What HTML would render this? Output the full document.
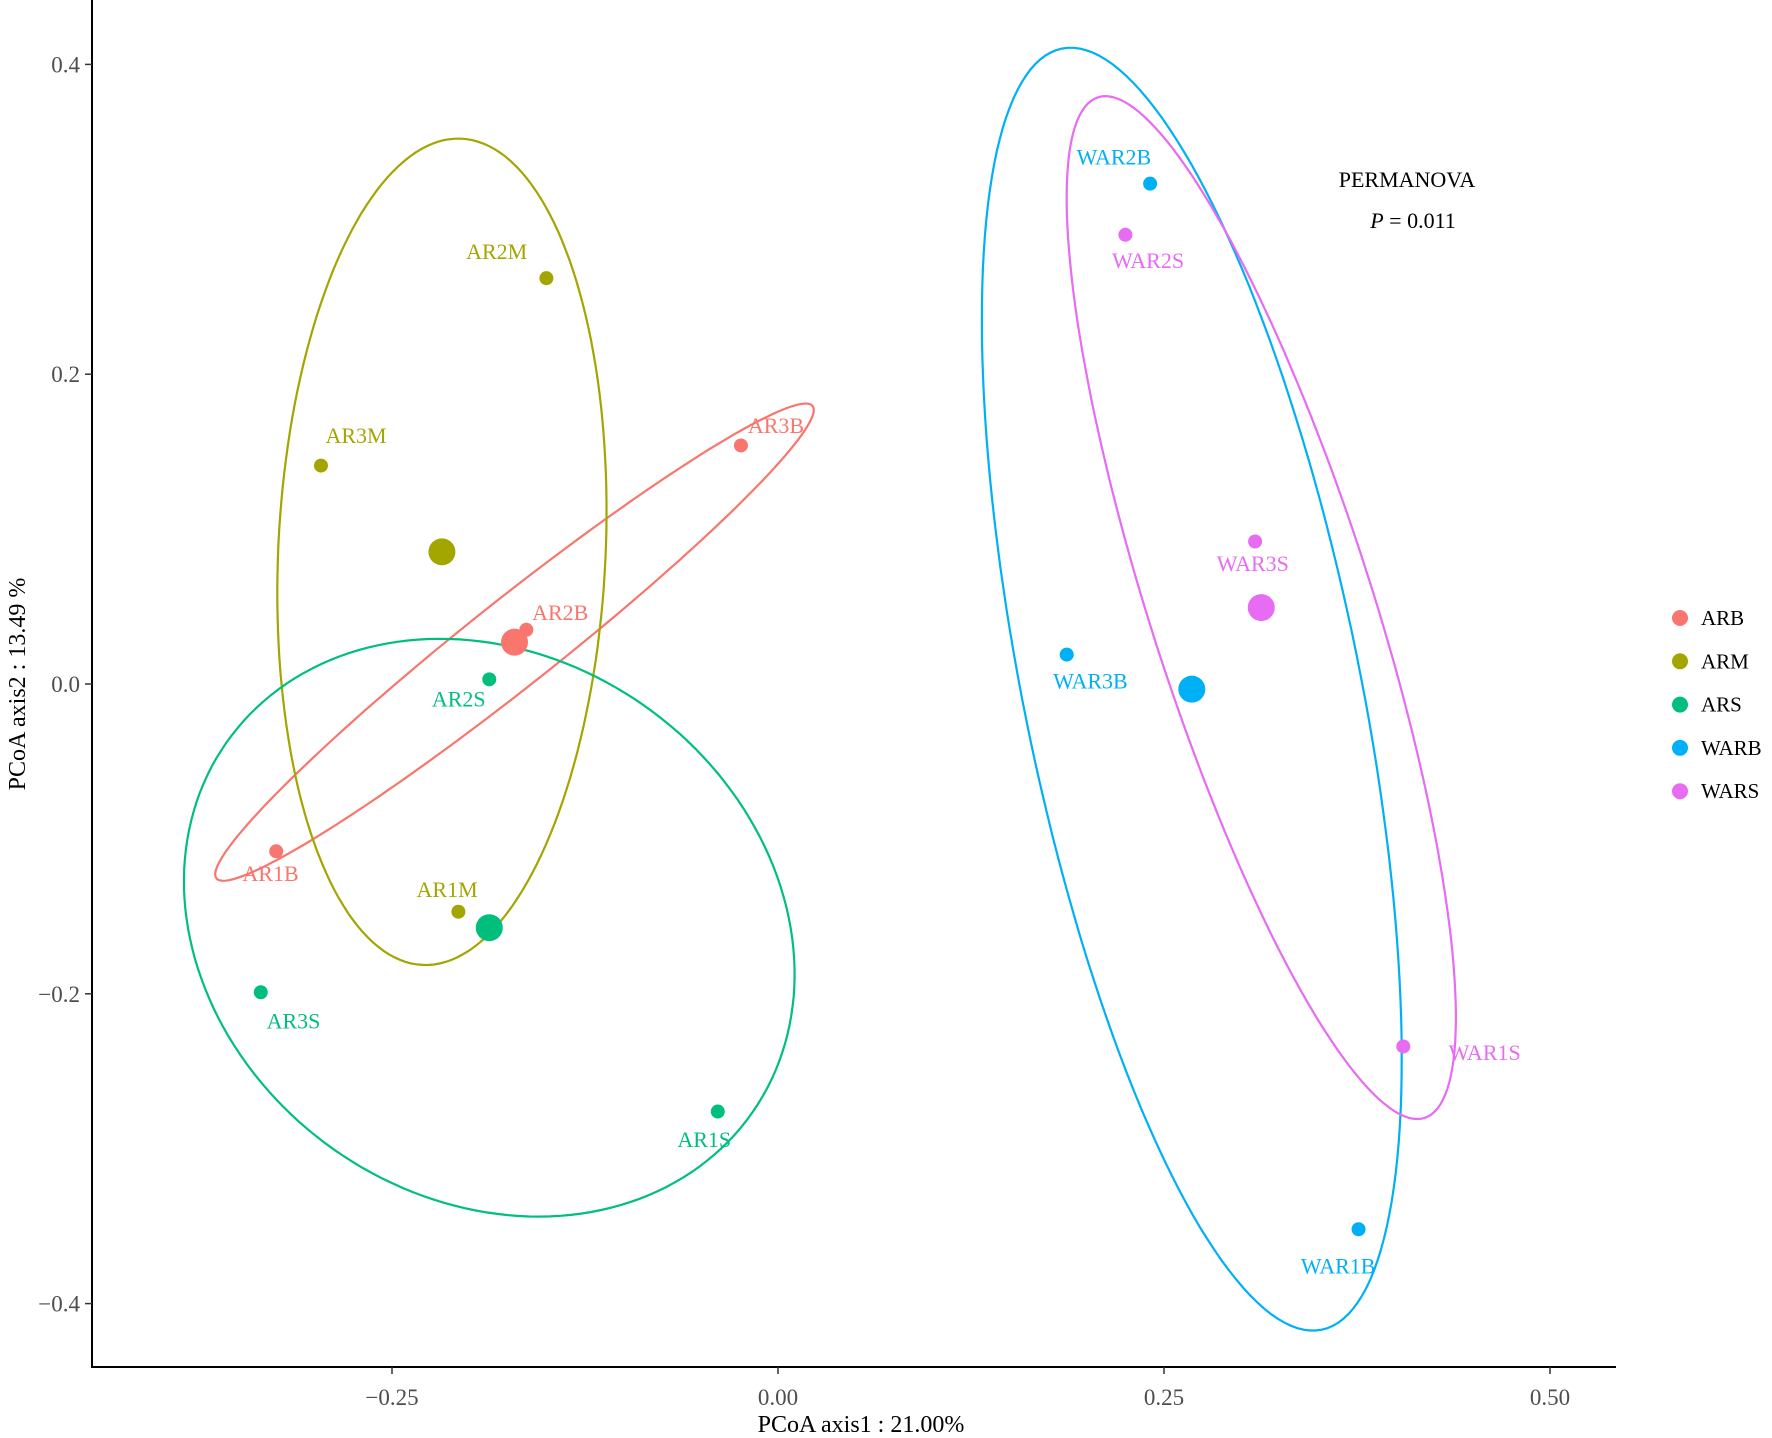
<!DOCTYPE html>
<html><head><meta charset="utf-8"><style>
html,body{margin:0;padding:0;background:#fff;}
svg{display:block;font-family:"Liberation Serif",serif;}
</style></head><body>
<svg id="chart" width="1772" height="1438" viewBox="0 0 1772 1438"></svg>
<script>
const groups = ["ARB","ARM","ARS","WARB","WARS"];
const colors = ["#F8766D","#A3A500","#00BF7D","#00B0F6","#E76BF3"];
const sampleNames = ["AR1B","AR2B","AR3B","AR1M","AR2M","AR3M","AR1S","AR2S","AR3S","WAR1B","WAR2B","WAR3B","WAR1S","WAR2S","WAR3S"];
const sampleGroup = [0,0,0,1,1,1,2,2,2,3,3,3,4,4,4];
const axis1 = [-0.325,-0.163,-0.024,-0.207,-0.150,-0.296,-0.039,-0.187,-0.335,0.376,0.241,0.187,0.405,0.225,0.309];
const axis2 = [-0.108,0.035,0.154,-0.147,0.262,0.141,-0.276,0.003,-0.199,-0.352,0.323,0.019,-0.234,0.290,0.092];
const ellipseMajor = [0.246,0.267,0.208,0.422,0.346];
const ellipseMinor = [0.028,0.106,0.175,0.109,0.072];
const ellipseAngle = [38.3,87.3,-35,101.5,107.8];
const xTicks = [-0.25,0.00,0.25,0.50];
const xTickLabels = ["\u22120.25","0.00","0.25","0.50"];
const yTicks = [-0.4,-0.2,0.0,0.2,0.4];
const yTickLabels = ["\u22120.4","\u22120.2","0.0","0.2","0.4"];
const labelDx = [-5,30,31,-10,-44,31,-12,-27,29,-18,-32,21,72,20,-2];
const labelDy = [20,-15,-17,-19,-23,-26,25,18,26,33,-23,24,6,23,20];

const NS="http://www.w3.org/2000/svg";
const svg=document.getElementById('chart');
const X=v=>778+1544*v;
const Y=v=>684-1549*v;
function mk(t,a,p){const e=document.createElementNS(NS,t);for(const k in a)e.setAttribute(k,a[k]);(p||svg).appendChild(e);return e;}

const ax=mk('g',{});


const yl=mk('line',{x1:92,y1:0,x2:92,y2:1368,stroke:'#000','stroke-width':2},ax);


const xl=mk('line',{x1:91,y1:1367,x2:1616,y2:1367,stroke:'#000','stroke-width':2},ax);


xTicks.forEach((v,i)=>{
  mk('line',{x1:X(v),y1:1367,x2:X(v),y2:1374,stroke:'#333','stroke-width':1.5},ax);
  const t=mk('text',{x:X(v),y:1405,'text-anchor':'middle','font-size':23,fill:'#4d4d4d'},ax);
  t.textContent=xTickLabels[i];
  
  
});
yTicks.forEach((v,i)=>{
  mk('line',{x1:85,y1:Y(v),x2:92,y2:Y(v),stroke:'#333','stroke-width':1.5},ax);
  const t=mk('text',{x:80,y:Y(v)+8,'text-anchor':'end','font-size':23,fill:'#4d4d4d'},ax);
  t.textContent=yTickLabels[i];
  
  
});
const xt=mk('text',{x:861,y:1432,'text-anchor':'middle','font-size':24,fill:'#000'});
xt.textContent='PCoA axis1 : 21.00%';


const yt=mk('text',{x:0,y:0,'text-anchor':'middle','font-size':24,fill:'#000',transform:'translate(25,684) rotate(-90)'});
yt.textContent='PCoA axis2 : 13.49 %';



const cx=[],cy=[];
groups.forEach((g,gi)=>{
  let sx=0,sy=0,n=0;
  sampleGroup.forEach((s,i)=>{if(s===gi){sx+=axis1[i];sy+=axis2[i];n++;}});
  cx.push(sx/n);cy.push(sy/n);
});

groups.forEach((g,gi)=>{
  const a=ellipseMajor[gi],b=ellipseMinor[gi],th=ellipseAngle[gi]*Math.PI/180;
  let d='';
  for(let k=0;k<=180;k++){
    const t=k/180*2*Math.PI;
    const ux=a*Math.cos(t),uy=b*Math.sin(t);
    const vx=cx[gi]+ux*Math.cos(th)-uy*Math.sin(th);
    const vy=cy[gi]+ux*Math.sin(th)+uy*Math.cos(th);
    d+=(k?'L':'M')+X(vx).toFixed(1)+' '+Y(vy).toFixed(1);
  }
  const e=mk('path',{d:d+'Z',fill:'none',stroke:colors[gi],'stroke-width':2.2});
  
  
});

sampleNames.forEach((nm,i)=>{
  const c=colors[sampleGroup[i]];
  const p=mk('circle',{cx:X(axis1[i]),cy:Y(axis2[i]),r:7,fill:c});
  
  
  const t=mk('text',{x:X(axis1[i])+labelDx[i]*1.13,y:Y(axis2[i])+labelDy[i]*1.13+7,'text-anchor':'middle','font-size':22,fill:c});
  t.textContent=nm;
  
  
});
groups.forEach((g,gi)=>{
  const p=mk('circle',{cx:X(cx[gi]),cy:Y(cy[gi]),r:13.5,fill:colors[gi]});
  
  
});

const pt=mk('text',{x:1407,y:187,'text-anchor':'middle','font-size':22,fill:'#000'});
pt.textContent='PERMANOVA';


const pv=mk('text',{x:1413,y:228,'text-anchor':'middle','font-size':22,fill:'#000'});
pv.innerHTML='<tspan font-style="italic">P</tspan> = 0.011';



const lg=mk('g',{});


groups.forEach((g,gi)=>{
  const yy=618+gi*43.3;
  const it=mk('g',{},lg);
  
  
  mk('circle',{cx:1680,cy:yy,r:8,fill:colors[gi]},it);
  const t=mk('text',{x:1701,y:yy+7,'font-size':21,fill:'#000'},it);
  t.textContent=g;
});
</script>
</body></html>
